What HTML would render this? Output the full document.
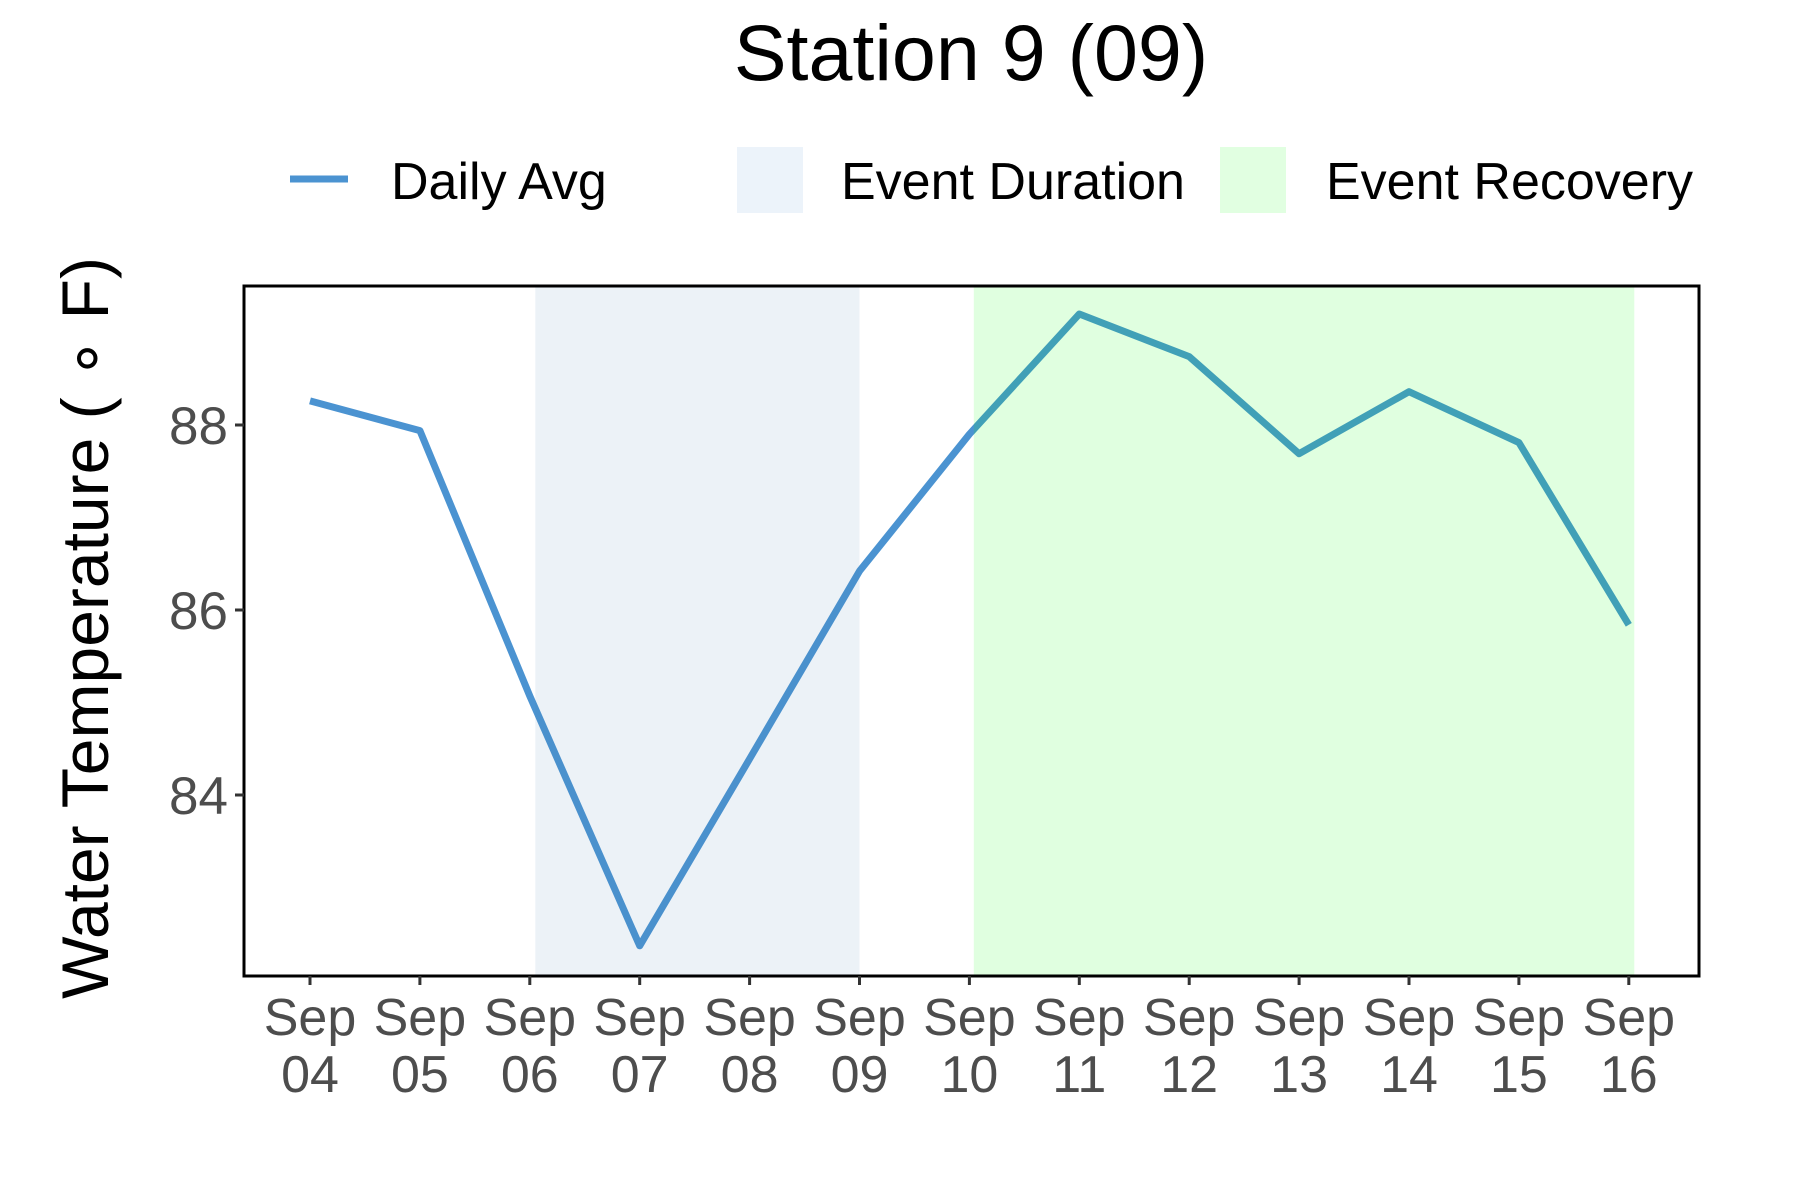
<!DOCTYPE html>
<html><head><meta charset="utf-8"><style>
html,body{margin:0;padding:0;background:#fff;width:1800px;height:1200px;overflow:hidden}
svg text{font-family:"Liberation Sans",Arial,sans-serif}
</style></head><body>
<svg id="chart" width="1800" height="1200" viewBox="0 0 1800 1200" xmlns="http://www.w3.org/2000/svg">
<rect width="1800" height="1200" fill="#fff"/>
<text x="971" y="80" font-size="79" text-anchor="middle" fill="#000">Station 9 (09)</text>
<g>
<g>
<line x1="290" y1="179" x2="348" y2="179" stroke="#4b93d1" stroke-width="7"/>
<text x="391" y="199" font-size="52" fill="#000">Daily Avg</text>
</g>
<g>
<rect x="737" y="147" width="66" height="66" fill="#ecf3fa"/>
<text x="841" y="199" font-size="52" fill="#000">Event Duration</text>
</g>
<g>
<rect x="1220" y="147" width="66" height="66" fill="#e1ffe1"/>
<text x="1326" y="199" font-size="52" fill="#000">Event Recovery</text>
</g>
</g>
<g id="plot"></g>
<text transform="translate(108,628) rotate(-90)" font-size="66" text-anchor="middle" fill="#000">Water Temperature ( ∘ F)</text>
</svg>
<script>
const categories = ["04","05","06","07","08","09","10","11","12","13","14","15","16"];
const values = [88.26,87.94,85.07,82.37,84.39,86.42,87.90,89.20,88.74,87.69,88.36,87.81,85.84];
const yTicks = [84,86,88];
const durationSpan = [2.05,5.0];
const recoverySpan = [6.04,12.05];

const L=244,R=1699,T=286,B=976;
const x0=310, dx=109.9;
function xs(i){return x0+i*dx;}
function ys(v){return 425+(88-v)*92.5;}
const NS="http://www.w3.org/2000/svg";
const g=document.getElementById('plot');
function mk(t,a){const e=document.createElementNS(NS,t);for(const k in a)e.setAttribute(k,a[k]);g.appendChild(e);return e;}

let d="";
values.forEach((v,i)=>{d+=(i?"L":"M")+xs(i).toFixed(1)+","+ys(v).toFixed(1);});
const line=mk('path',{d:d,fill:"none",stroke:"#4b93d1","stroke-width":7,"stroke-linejoin":"round"});



const r1=mk('rect',{x:xs(durationSpan[0]),y:T,width:xs(durationSpan[1])-xs(durationSpan[0]),height:B-T,fill:"rgb(70,130,180)","fill-opacity":0.1});


const r2=mk('rect',{x:xs(recoverySpan[0]),y:T,width:xs(recoverySpan[1])-xs(recoverySpan[0]),height:B-T,fill:"rgb(0,255,0)","fill-opacity":0.12});



const border=mk('rect',{x:L,y:T,width:R-L,height:B-T,fill:"none",stroke:"#000","stroke-width":3});



yTicks.forEach(v=>{
  const t=mk('line',{x1:L-9,x2:L,y1:ys(v),y2:ys(v),stroke:"#333","stroke-width":3});
  
  
  const lb=mk('text',{x:L-16,y:ys(v)+19,"font-size":53,"text-anchor":"end",fill:"#4d4d4d"});
  lb.textContent=v;
  
  
});
categories.forEach((c,i)=>{
  const t=mk('line',{x1:xs(i),x2:xs(i),y1:B,y2:B+9,stroke:"#333","stroke-width":3});
  
  
  const lb=mk('text',{x:xs(i),y:1035,"font-size":52,"text-anchor":"middle",fill:"#4d4d4d"});
  
  
  const s1=document.createElementNS(NS,'tspan');s1.setAttribute('x',xs(i));s1.textContent="Sep";
  const s2=document.createElementNS(NS,'tspan');s2.setAttribute('x',xs(i));s2.setAttribute('dy','57');s2.textContent=c;
  lb.appendChild(s1);lb.appendChild(s2);
});
</script>
</body></html>
